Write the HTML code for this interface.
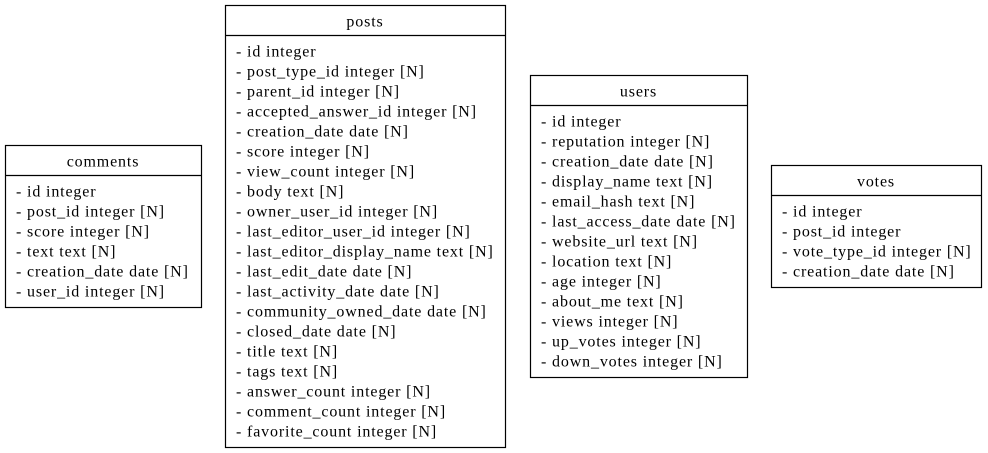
<!DOCTYPE html>
<html><head><meta charset="utf-8"><style>
html,body{margin:0;padding:0;background:#fff;width:988px;height:453px;overflow:hidden}
text{font-family:"Liberation Serif",serif;font-size:16px;letter-spacing:0.85px;fill:#000}
</style></head><body>
<svg width="988" height="453">
<g id="root"></g>
</svg>
<script>
const tables=[
 {name:"comments",x:5,y:145,w:196,h:162,cols:["id integer","post_id integer [N]","score integer [N]","text text [N]","creation_date date [N]","user_id integer [N]"]},
 {name:"posts",x:225,y:5,w:280,h:442,cols:["id integer","post_type_id integer [N]","parent_id integer [N]","accepted_answer_id integer [N]","creation_date date [N]","score integer [N]","view_count integer [N]","body text [N]","owner_user_id integer [N]","last_editor_user_id integer [N]","last_editor_display_name text [N]","last_edit_date date [N]","last_activity_date date [N]","community_owned_date date [N]","closed_date date [N]","title text [N]","tags text [N]","answer_count integer [N]","comment_count integer [N]","favorite_count integer [N]"]},
 {name:"users",x:530,y:75,w:217,h:302,cols:["id integer","reputation integer [N]","creation_date date [N]","display_name text [N]","email_hash text [N]","last_access_date date [N]","website_url text [N]","location text [N]","age integer [N]","about_me text [N]","views integer [N]","up_votes integer [N]","down_votes integer [N]"]},
 {name:"votes",x:771,y:165,w:210,h:122,cols:["id integer","post_id integer","vote_type_id integer [N]","creation_date date [N]"]}
];
const NS="http://www.w3.org/2000/svg";
const root=document.getElementById('root');
function mk(t,a){const e=document.createElementNS(NS,t);for(const k in a)e.setAttribute(k,a[k]);return e;}
tables.forEach(t=>{
 const g=mk('g',{});
 
 
 g.appendChild(mk('rect',{x:t.x+0.5,y:t.y+0.5,width:t.w,height:t.h,fill:'#fff',stroke:'#000','stroke-width':1.2}));
 g.appendChild(mk('line',{x1:t.x,x2:t.x+t.w+1,y1:t.y+30.5,y2:t.y+30.5,stroke:'#000','stroke-width':1.2}));
 const h=mk('text',{x:t.x+t.w/2,y:t.y+17,'text-anchor':'middle','dominant-baseline':'central'});
 h.textContent=t.name;
 
 
 g.appendChild(h);
 t.cols.forEach((c,i)=>{
  const tx=mk('text',{x:t.x+11,y:t.y+47+i*20,'dominant-baseline':'central'});
  tx.textContent='- '+c;
  
  
  g.appendChild(tx);
 });
 root.appendChild(g);
});
</script>
</body></html>
